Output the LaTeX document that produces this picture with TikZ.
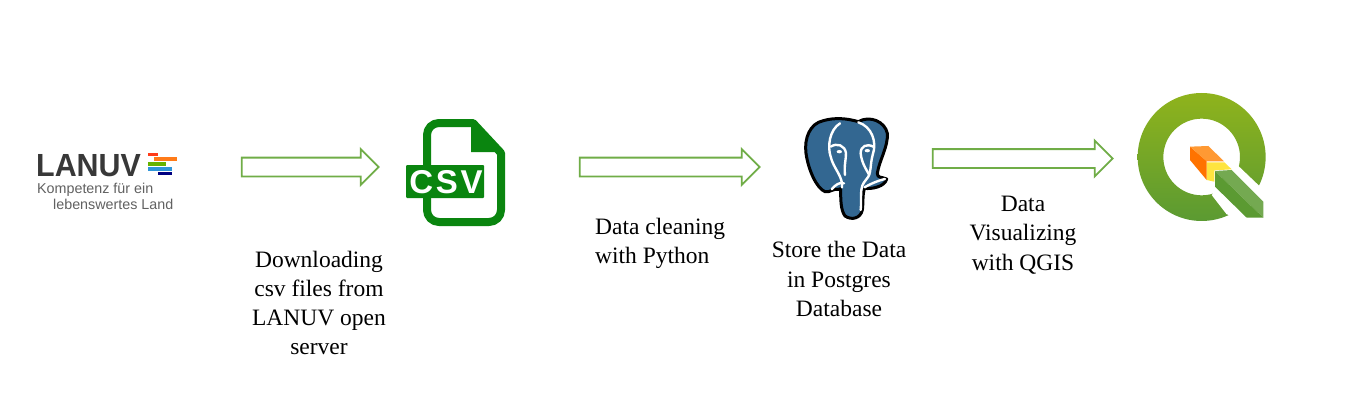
\documentclass[tikz,border=0pt]{standalone}
\usepackage{fontspec}
\setmainfont{Liberation Serif}
\newfontfamily\logofont{Liberation Sans}
\usepackage{xcolor}
\usetikzlibrary{shapes, arrows, positioning, calc}

\definecolor{arrowgreen}{HTML}{70AD47}
\definecolor{csvgreen}{HTML}{0A850F}
\definecolor{pgblue}{HTML}{336791}
\definecolor{qgisTop}{HTML}{8FB31C}
\definecolor{qgisBottom}{HTML}{5B9A32}

\tikzset{
  flowarrow/.style={shape=single arrow, draw=arrowgreen, line width=1.8pt, fill=white,
    inner xsep=0pt, inner ysep=8.5pt, single arrow head extend=8.5pt},
  steplabel/.style={align=center, font=\fontsize{23.5}{29.3}\selectfont, inner sep=0pt},
}

\begin{document}
\begin{tikzpicture}[x=1pt,y=-1pt]
  % Page frame, one unit is one pixel of the reference
  \path[use as bounding box,fill=white] (0,0) rectangle (1353,412);

  % LANUV logo
  \node[anchor=base west,inner sep=0pt,text=black!78,font=\logofont\fontsize{32}{32}\selectfont\bfseries\addfontfeature{FakeStretch=0.95}] (lanuv) at (36,176) {LANUV};
  \fill[red!70!orange!90!white] (148,153) rectangle (158,156);
  \fill[orange!85!red!90!white] (154,157) rectangle (177,161);
  \fill[green!50!black!60!yellow] (148,162) rectangle (166,166);
  \fill[cyan!70!blue!85!white] (148,167) rectangle (172,171);
  \fill[blue!50!black] (158,172) rectangle (172,175);
  \node[anchor=base west,inner sep=0pt,text=black!62,font=\logofont\fontsize{14.3}{14}\selectfont] (lanuvA) at (37,193) {Kompetenz für ein};
  \node[anchor=base west,inner sep=0pt,text=black!62,font=\logofont\fontsize{14.3}{14}\selectfont] (lanuvB) at (53,209) {lebenswertes Land};

  % CSV file icon
  \draw[csvgreen,line width=8pt,line join=round] (427,165) -- (427,135) arc (180:270:12) -- (473,123)
    -- (501,153) -- (501,210) arc (0:90:12) -- (439,222) arc (90:180:12) -- (427,196);
  \fill[csvgreen] (471,122) -- (471,152) -- (502,152) -- cycle;
  \fill[csvgreen,rounded corners=1pt] (406,165) rectangle (484,198);
  \node[text=white,inner sep=0pt,font=\logofont\fontsize{33}{33}\selectfont\bfseries\addfontfeature{LetterSpace=8}] (csv) at (446,182) {CSV};

  % Postgres elephant
  \begin{scope}[shift={(790,110)},x=0.3333pt,y=-0.3333pt]
    \draw[black,line width=3pt,fill=pgblue,line join=round]
      (100,32) .. controls (60,40) and (42,85) .. (48,130)
      .. controls (55,180) and (80,235) .. (105,245)
      .. controls (120,248) and (125,238) .. (135,238)
      .. controls (145,240) and (150,236) .. (152,236)
      .. controls (152,270) and (152,300) .. (165,318)
      .. controls (185,332) and (212,325) .. (217,300)
      .. controls (220,280) and (217,250) .. (224,235)
      .. controls (245,238) and (285,230) .. (290,207)
      .. controls (275,200) and (262,205) .. (262,190)
      .. controls (268,150) and (295,110) .. (292,70)
      .. controls (285,35) and (240,15) .. (205,35)
      .. controls (170,25) and (135,22) .. (100,32) -- cycle;
    % White contours of the head
    \draw[white,line width=2.4pt,line cap=round,line join=round]
      (205,37) .. controls (245,50) and (262,95) .. (248,135)
      .. controls (240,165) and (244,185) .. (235,200)
      .. controls (225,215) and (216,220) .. (214,240)
      .. controls (212,265) and (214,285) .. (212,300);
    \draw[white,line width=2.4pt,line cap=round,line join=round]
      (150,40) .. controls (118,60) and (112,110) .. (122,140)
      .. controls (130,175) and (160,200) .. (156,232);
    \draw[white,line width=2.4pt,line cap=round]
      (122,110) .. controls (140,98) and (165,105) .. (168,130)
      .. controls (168,150) and (162,165) .. (165,195);
    \draw[white,line width=2.4pt,line cap=round]
      (250,110) .. controls (230,100) and (212,108) .. (212,130)
      .. controls (215,160) and (230,180) .. (238,195);
    \draw[white,line width=2.4pt,line cap=round]
      (125,238) .. controls (135,225) and (150,215) .. (162,220);
    \draw[white,line width=2.4pt,line cap=round]
      (224,232) .. controls (235,225) and (262,212) .. (285,207);
    \fill[white] (148,125) ellipse (8 and 5);
    \fill[white] (232,122) ellipse (8 and 5);
  \end{scope}

  % QGIS logo
  \begin{scope}[shift={(1125,85)},x=0.3333pt,y=-0.3333pt]
    \shade[top color=qgisTop,bottom color=qgisBottom,even odd rule]
      (230,216) circle (192) (230,216) circle (115);
    % White gap where the stick runs through the ring
    \fill[white] (260,330) -- (305,388) -- (430,425) -- (430,320) -- (400,300) -- (335,238) -- cycle;
    \fill[qgisBottom!85!white] (270,258) -- (320,255) -- (415,350) -- (415,398) -- cycle;
    \fill[qgisBottom] (270,258) -- (270,305) -- (365,398) -- (415,398) -- cycle;
    \fill[yellow!80!orange!75!white] (245,232) -- (298,232) -- (320,253) -- (268,256) -- (268,290) -- (245,285) -- cycle;
    \fill[orange!90!red] (195,185) -- (195,225) -- (245,285) -- (245,228) -- cycle;
    \fill[orange!80!white] (195,185) -- (250,183) -- (297,229) -- (245,229) -- cycle;
  \end{scope}

  % Block arrows between the logos
  \node[flowarrow,minimum height=137pt] (arrowA) at (305.5,167) {};
  \node[flowarrow,minimum height=180pt] (arrowB) at (665,167) {};
  \node[flowarrow,minimum height=180pt] (arrowC) at (1018,158.5) {};

  % Step labels
  \node[steplabel] (labelA) at (319,303) {Downloading\\csv files from\\LANUV open\\server};
  \node[steplabel,align=left,anchor=west] (labelB) at (595,243.5) {Data cleaning\\with Python};
  \node[steplabel] (labelC) at (839,279) {Store the Data\\in Postgres\\Database};
  \node[steplabel] (labelD) at (1023,235) {Data\\Visualizing\\with QGIS};
\end{tikzpicture}
\end{document}
